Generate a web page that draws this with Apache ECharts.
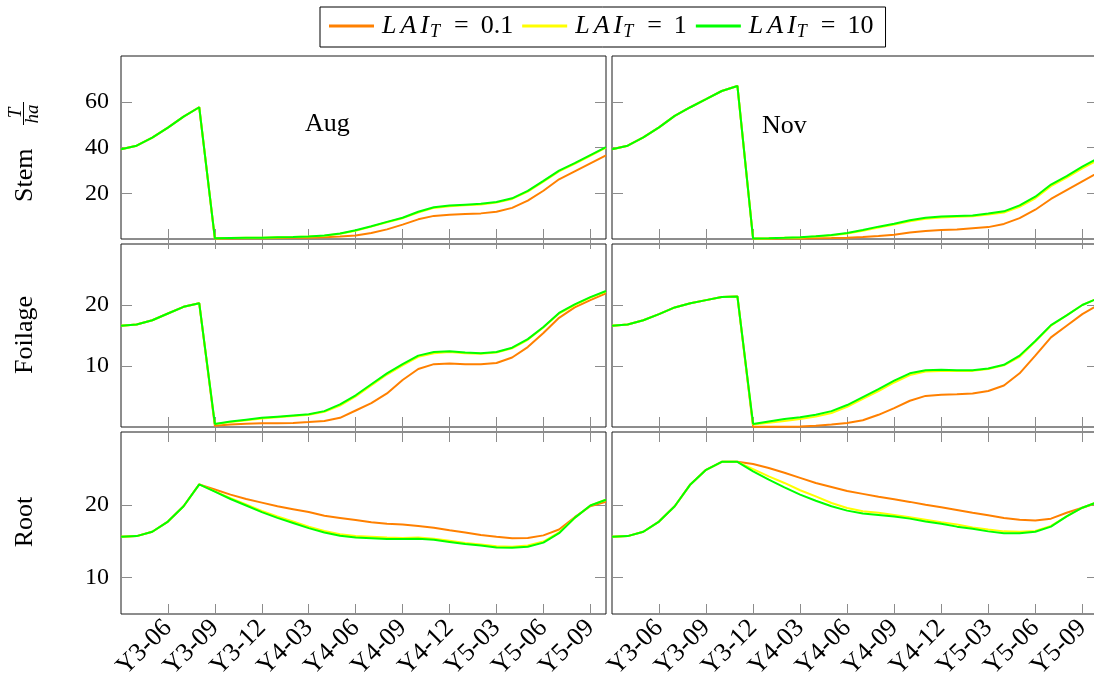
<!DOCTYPE html>
<html>
<head>
<meta charset="utf-8">
<script src="https://cdn.jsdelivr.net/npm/echarts@6/dist/echarts.min.js"></script>
<style>
html,body{margin:0;padding:0;background:#fff;}
#chart{width:1094px;height:675px;}
</style>
</head>
<body>
<div id="chart"></div>
<script>
// ---------- DATA ----------
const months = ['Y3-03','Y3-04','Y3-05','Y3-06','Y3-07','Y3-08','Y3-09','Y3-10','Y3-11','Y3-12','Y4-01','Y4-02',
  'Y4-03','Y4-04','Y4-05','Y4-06','Y4-07','Y4-08','Y4-09','Y4-10','Y4-11','Y4-12','Y5-01','Y5-02',
  'Y5-03','Y5-04','Y5-05','Y5-06','Y5-07','Y5-08','Y5-09','Y5-10'];
const laiValues = ['0.1', '1', '10'];
const panelLabels = ['Aug', 'Nov'];
const rowNames = ['Stem', 'Foilage', 'Root'];
const stemTicks = [20, 40, 60];
const foliageTicks = [10, 20];
const rootTicks = [10, 20];

// Stem, Aug
const stemAug01 = [39.2,40.8,44.3,48.7,53.5,57.6,0.2,0.2,0.3,0.3,0.4,0.5,0.6,0.8,1.1,1.5,2.6,4.2,6.3,8.6,10.1,10.6,10.9,11.2,11.9,13.6,16.8,21.1,26.1,29.6,33.1,36.6];
const stemAug1  = [39.2,40.8,44.3,48.7,53.5,57.6,0.3,0.4,0.5,0.6,0.8,0.9,1.1,1.4,2.3,3.6,5.4,7.3,9.1,11.6,13.6,14.3,14.7,15.1,15.9,17.5,20.7,25.1,29.6,32.9,36.4,39.9];
const stemAug10 = [39.2,40.8,44.3,48.7,53.5,57.6,0.3,0.4,0.5,0.6,0.8,0.9,1.1,1.5,2.4,3.8,5.6,7.5,9.3,11.9,13.9,14.6,15.0,15.4,16.2,17.8,21.0,25.4,29.9,33.2,36.7,40.2];
// Stem, Nov
const stemNov01 = [39.2,40.8,44.4,48.8,53.8,57.6,61.1,64.7,66.9,0.1,0.1,0.2,0.2,0.3,0.4,0.6,0.9,1.3,1.9,2.8,3.5,3.9,4.2,4.7,5.2,6.6,9.1,12.8,17.5,21.4,25.2,29.0];
const stemNov1  = [39.2,40.8,44.4,48.8,53.8,57.6,61.1,64.7,66.9,0.2,0.3,0.5,0.7,1.1,1.5,2.4,3.6,5.0,6.3,7.8,8.9,9.4,9.7,9.9,10.7,11.6,14.1,17.8,23.1,26.8,30.9,34.6];
const stemNov10 = [39.2,40.8,44.4,48.8,53.8,57.6,61.1,64.7,66.9,0.2,0.3,0.5,0.8,1.2,1.7,2.6,3.9,5.4,6.7,8.2,9.3,9.8,10.1,10.3,11.1,12.1,14.7,18.5,23.8,27.5,31.6,35.3];
// Foilage, Aug
const folAug01 = [16.6,16.8,17.5,18.6,19.7,20.3,0.2,0.4,0.55,0.6,0.6,0.65,0.8,1.0,1.5,2.7,3.9,5.5,7.7,9.5,10.3,10.4,10.3,10.3,10.5,11.4,13.1,15.4,17.9,19.6,20.8,21.9];
const folAug1  = [16.6,16.8,17.5,18.6,19.7,20.3,0.5,0.8,1.1,1.4,1.6,1.8,2.0,2.5,3.5,5.0,6.8,8.6,10.1,11.5,12.1,12.3,12.1,12.0,12.2,12.9,14.3,16.3,18.6,20.0,21.2,22.2];
const folAug10 = [16.6,16.8,17.5,18.6,19.7,20.3,0.5,0.9,1.2,1.5,1.7,1.9,2.1,2.6,3.7,5.2,7.0,8.8,10.3,11.7,12.3,12.4,12.2,12.1,12.3,13.0,14.4,16.4,18.7,20.1,21.3,22.3];
// Foilage, Nov
const folNov01 = [16.6,16.8,17.5,18.5,19.6,20.3,20.8,21.3,21.4,0.05,0.05,0.05,0.1,0.2,0.4,0.65,1.1,2.0,3.1,4.3,5.1,5.3,5.35,5.5,5.9,6.8,8.8,11.7,14.7,16.6,18.5,20.0];
const folNov1  = [16.6,16.8,17.5,18.5,19.6,20.3,20.8,21.3,21.4,0.4,0.7,1.0,1.3,1.7,2.3,3.3,4.6,5.9,7.3,8.5,9.1,9.2,9.2,9.2,9.5,10.1,11.5,14.0,16.6,18.3,20.0,21.1];
const folNov10 = [16.6,16.8,17.5,18.5,19.6,20.3,20.8,21.3,21.4,0.5,0.9,1.3,1.6,2.0,2.6,3.6,4.9,6.2,7.6,8.8,9.3,9.4,9.3,9.3,9.6,10.2,11.7,14.1,16.7,18.3,20.0,21.1];
// Root, Aug
const rootAug01 = [15.6,15.7,16.3,17.7,19.8,22.8,22.1,21.4,20.8,20.3,19.8,19.4,19.0,18.5,18.2,17.9,17.6,17.4,17.3,17.1,16.85,16.5,16.2,15.85,15.6,15.4,15.45,15.8,16.6,18.3,19.8,20.4];
const rootAug1  = [15.6,15.7,16.3,17.7,19.8,22.8,21.85,20.9,20.05,19.15,18.4,17.7,17.0,16.4,15.95,15.7,15.6,15.5,15.45,15.5,15.35,15.05,14.75,14.55,14.3,14.25,14.4,14.95,16.2,18.2,19.9,20.7];
const rootAug10 = [15.6,15.7,16.3,17.7,19.8,22.8,21.8,20.8,19.9,19.0,18.2,17.5,16.8,16.2,15.75,15.5,15.4,15.3,15.3,15.35,15.2,14.9,14.6,14.4,14.15,14.1,14.25,14.8,16.1,18.2,19.9,20.7];
// Root, Nov
const rootNov01 = [15.6,15.7,16.3,17.7,19.8,22.8,24.8,25.9,25.9,25.6,25.05,24.4,23.7,23.0,22.45,21.9,21.5,21.1,20.75,20.4,20.0,19.65,19.3,18.9,18.55,18.2,17.95,17.85,18.1,18.9,19.6,20.3];
const rootNov1  = [15.6,15.7,16.3,17.7,19.8,22.8,24.8,25.9,25.9,24.9,23.9,23.0,22.0,21.15,20.25,19.55,19.1,18.9,18.6,18.3,17.95,17.6,17.3,16.9,16.6,16.35,16.3,16.4,17.1,18.4,19.6,20.4];
const rootNov10 = [15.6,15.7,16.3,17.7,19.8,22.8,24.8,25.9,25.9,24.6,23.45,22.4,21.4,20.55,19.8,19.2,18.8,18.6,18.4,18.1,17.7,17.4,17.0,16.7,16.35,16.1,16.1,16.3,17.0,18.4,19.6,20.4];

// ---------- CHART ----------
const colors = ['#ff8000', '#ffff00', '#00ff00'];
const seriesNames = laiValues.map(v => 'LAI_T = ' + v);
const panels = [
  [stemAug01, stemAug1, stemAug10], [stemNov01, stemNov1, stemNov10],
  [folAug01, folAug1, folAug10], [folNov01, folNov1, folNov10],
  [rootAug01, rootAug1, rootAug10], [rootNov01, rootNov1, rootNov10]
];
const yRanges = [[0, 80, stemTicks], [0, 30, foliageTicks], [5, 30, rootTicks]];
const FONT = '"Liberation Serif", "DejaVu Serif", serif';

const colLeft = [121, 612];
const colWidth = [485, 486];
const rowTop = [56, 244, 432];
const rowHeight = [183, 183, 182];

const grids = [], xAxes = [], yAxes = [], series = [];
const tickInt = (idx) => idx % 3 === 0 && idx > 0;

for (let i = 0; i < 6; i++) {
  const r = Math.floor(i / 2), c = i % 2;
  grids.push({left: colLeft[c], top: rowTop[r], width: colWidth[c], height: rowHeight[r],
    show: true, borderColor: '#1a1a1a', borderWidth: 1, backgroundColor: 'rgba(0,0,0,0)',
    containLabel: false, outerBoundsMode: 'none'});
  const tickStyle = {show: true, inside: true, length: 10, interval: tickInt, lineStyle: {color: '#8c8c8c', width: 1}};
  ['bottom', 'top'].forEach(pos => {
    xAxes.push({gridIndex: i, type: 'category', data: months, boundaryGap: false, position: pos,
      axisLine: {show: false}, axisTick: tickStyle, splitLine: {show: false},
      axisLabel: {show: pos === 'bottom' && r === 2, interval: tickInt, rotate: 45, margin: 10,
        fontFamily: FONT, fontSize: 26, color: '#000'}});
  });
  const [mn, mx, tv] = yRanges[r];
  ['left', 'right'].forEach(pos => {
    yAxes.push({gridIndex: i, type: 'value', min: mn, max: mx, position: pos,
      axisLine: {show: false}, splitLine: {show: false},
      axisTick: {show: true, inside: true, length: 11, customValues: tv, lineStyle: {color: '#8c8c8c', width: 1}},
      axisLabel: {show: pos === 'left' && c === 0, customValues: tv, margin: 12,
        fontFamily: FONT, fontSize: 24, color: '#000'}});
  });
  panels[i].forEach((arr, k) => {
    series.push({type: 'line', name: seriesNames[k], xAxisIndex: 2 * i, yAxisIndex: 2 * i,
      data: arr, symbol: 'none', smooth: false, z: 2 + k,
      lineStyle: {color: colors[k], width: 2}, itemStyle: {color: colors[k]}});
  });
}

const wordFont = '26px ' + FONT;
const fracFont = 'italic 19px ' + FONT;
const graphic = [
  {type: 'text', x: 305, y: 124, style: {text: panelLabels[0], font: wordFont, fill: '#000', verticalAlign: 'middle'}},
  {type: 'text', x: 762, y: 126, style: {text: panelLabels[1], font: wordFont, fill: '#000', verticalAlign: 'middle'}},
  {type: 'group', x: 25, y: 202, rotation: Math.PI / 2, children: [
    {type: 'text', x: 0, y: 0, style: {text: rowNames[0], font: wordFont, fill: '#000', verticalAlign: 'middle', align: 'left'}},
    {type: 'text', x: 89, y: -9, style: {text: 'T', font: fracFont, fill: '#000', verticalAlign: 'middle', align: 'center'}},
    {type: 'line', shape: {x1: 77, y1: -1.5, x2: 100, y2: -1.5}, style: {stroke: '#000', lineWidth: 1}},
    {type: 'text', x: 88, y: 7.5, style: {text: 'ha', font: fracFont, fill: '#000', verticalAlign: 'middle', align: 'center'}}
  ]},
  {type: 'text', x: 25, y: 335, rotation: Math.PI / 2, style: {text: rowNames[1], font: wordFont, fill: '#000', verticalAlign: 'middle', align: 'center'}},
  {type: 'text', x: 25, y: 522, rotation: Math.PI / 2, style: {text: rowNames[2], font: wordFont, fill: '#000', verticalAlign: 'middle', align: 'center'}}
];

const chart = echarts.init(document.getElementById('chart'), null, {renderer: 'canvas'});
chart.setOption({
  animation: false,
  backgroundColor: '#fff',
  legend: {
    data: seriesNames, left: 320, top: 7, orient: 'horizontal',
    icon: 'rect', itemWidth: 45, itemHeight: 3, itemGap: 9,
    padding: [6, 12, 6, 9], borderColor: '#000', borderWidth: 1,
    formatter: name => '{a|L}{b|A}{c|I}{s|T}{e|=}{r|' + name.split('= ')[1] + '}',
    textStyle: {color: '#000', fontFamily: FONT,
      rich: {
        a: {fontFamily: FONT, fontStyle: 'italic', fontSize: 26, lineHeight: 30, verticalAlign: 'middle', padding: [0, 4, 0, 3]},
        b: {fontFamily: FONT, fontStyle: 'italic', fontSize: 26, lineHeight: 30, verticalAlign: 'middle', padding: [0, 4, 0, 0]},
        c: {fontFamily: FONT, fontStyle: 'italic', fontSize: 26, lineHeight: 30, verticalAlign: 'middle', padding: [0, 1, 0, 0]},
        s: {fontFamily: FONT, fontStyle: 'italic', fontSize: 18, lineHeight: 13, verticalAlign: 'bottom', padding: [0, 2, 0, 0]},
        e: {fontFamily: FONT, fontSize: 26, lineHeight: 30, verticalAlign: 'middle', padding: [0, 12, 0, 12]},
        r: {fontFamily: FONT, fontSize: 26, lineHeight: 30, verticalAlign: 'middle'}
      }}
  },
  grid: grids, xAxis: xAxes, yAxis: yAxes, series: series, graphic: graphic
});
</script>
</body>
</html>
